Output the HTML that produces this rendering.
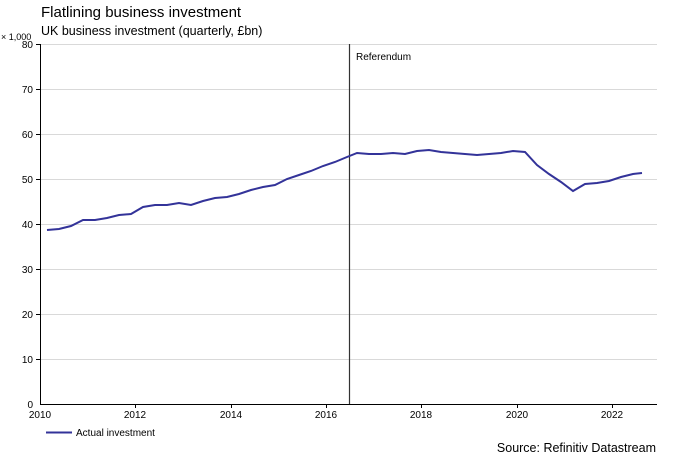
<!DOCTYPE html><html><head><style>body{margin:0;background:#fff}svg{display:block;font-family:"Liberation Sans",sans-serif}</style></head><body>
<svg width="673" height="457" xmlns="http://www.w3.org/2000/svg">
<text x="41" y="17" font-size="15" fill="#000">Flatlining business investment</text>
<text x="41" y="35" font-size="12.5" fill="#000">UK business investment (quarterly, £bn)</text>
<text x="1" y="40" font-size="9" fill="#000">× 1,000</text>
<g stroke="#d9d9d9" stroke-width="1">
<line x1="40" x2="657" y1="44.5" y2="44.5"/><line x1="40" x2="657" y1="89.5" y2="89.5"/><line x1="40" x2="657" y1="134.5" y2="134.5"/><line x1="40" x2="657" y1="179.5" y2="179.5"/><line x1="40" x2="657" y1="224.5" y2="224.5"/><line x1="40" x2="657" y1="269.5" y2="269.5"/><line x1="40" x2="657" y1="314.5" y2="314.5"/><line x1="40" x2="657" y1="359.5" y2="359.5"/></g>
<g stroke="#000" stroke-width="1">
<line x1="40.5" x2="40.5" y1="44" y2="404"/><line x1="40" x2="657" y1="404.5" y2="404.5"/>
<line x1="36" x2="40" y1="44.5" y2="44.5"/><line x1="36" x2="40" y1="89.5" y2="89.5"/><line x1="36" x2="40" y1="134.5" y2="134.5"/><line x1="36" x2="40" y1="179.5" y2="179.5"/><line x1="36" x2="40" y1="224.5" y2="224.5"/><line x1="36" x2="40" y1="269.5" y2="269.5"/><line x1="36" x2="40" y1="314.5" y2="314.5"/><line x1="36" x2="40" y1="359.5" y2="359.5"/>
<line x1="135.5" x2="135.5" y1="404" y2="408"/><line x1="231.5" x2="231.5" y1="404" y2="408"/><line x1="326.5" x2="326.5" y1="404" y2="408"/><line x1="421.5" x2="421.5" y1="404" y2="408"/><line x1="517.5" x2="517.5" y1="404" y2="408"/><line x1="612.5" x2="612.5" y1="404" y2="408"/>
</g>
<g font-size="10" text-anchor="end" fill="#000">
<text x="33" y="48">80</text><text x="33" y="93">70</text><text x="33" y="138">60</text><text x="33" y="183">50</text><text x="33" y="228">40</text><text x="33" y="273">30</text><text x="33" y="318">20</text><text x="33" y="363">10</text><text x="33" y="408">0</text></g>
<g font-size="10" text-anchor="middle" fill="#000">
<text x="40" y="418">2010</text><text x="135" y="418">2012</text><text x="231" y="418">2014</text><text x="326" y="418">2016</text><text x="421" y="418">2018</text><text x="517" y="418">2020</text><text x="612" y="418">2022</text></g>
<line x1="349.5" x2="349.5" y1="44" y2="404" stroke="#333" stroke-width="1.2"/>
<text x="356" y="60" font-size="10">Referendum</text>
<polyline fill="none" stroke="#333399" stroke-width="2" points="47,230 59,229 71,226 83,220 95,220 107,218 119,215 131,214 143,207 155,205 167,205 179,203 191,205 203,201 215,198 227,197 239,194 251,190 263,187 275,185 287,179 299,175 311,171 323,166 335,162 347,157 357,153 369,154 381,154 393,153 405,154 417,151 429,150 441,152 453,153 465,154 477,155 489,154 501,153 513,151 525,152 537,165 549,174 561,182 573,191 585,184 597,183 609,181 621,177 633,174 642,173"/>
<line x1="46" x2="72" y1="432.5" y2="432.5" stroke="#333399" stroke-width="2"/>
<text x="76" y="436" font-size="10">Actual investment</text>
<text x="656" y="452" font-size="12.5" text-anchor="end">Source: Refinitiv Datastream</text>
</svg></body></html>
